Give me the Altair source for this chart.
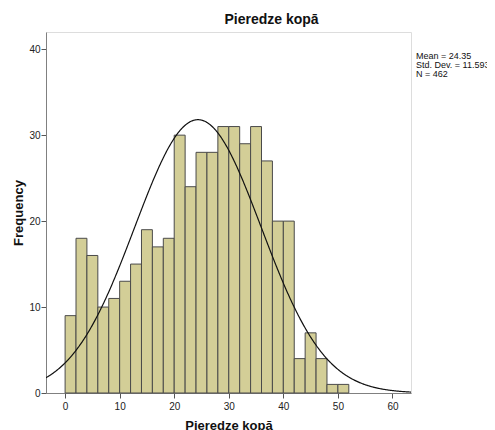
import altair as alt
import pandas as pd

# Histogram data (bin width 2)
bin_starts = [0, 2, 4, 6, 8, 10, 12, 14, 16, 18, 20, 22, 24, 26, 28, 30, 32, 34, 36, 38, 40, 42, 44, 46, 48, 50]
counts = [9, 18, 16, 10, 11, 13, 15, 19, 17, 18, 30, 24, 28, 28, 31, 31, 29, 31, 27, 20, 20, 4, 7, 4, 1, 1]
bin_width = 2

mean_val = 24.35
sd_val = 11.593
n_val = 462
stats_lines = ["Mean = 24.35", "Std. Dev. = 11.593", "N = 462"]

x_domain = [-3.5, 63.4]
y_domain = [0, 42]
x_ticks = [0, 10, 20, 30, 40, 50, 60]
y_ticks = [0, 10, 20, 30, 40]

FONT = "Liberation Sans"

bars_df = pd.DataFrame({
    "start": bin_starts,
    "end": [s + bin_width for s in bin_starts],
    "count": counts,
})

xscale = alt.Scale(domain=x_domain, nice=False, zero=False)
yscale = alt.Scale(domain=y_domain, nice=False)

x_axis = alt.Axis(values=x_ticks, grid=False, tickSize=5, tickColor="#555555",
                  domainColor="#808080", labelFont=FONT, labelFontSize=10,
                  labelColor="#222222", labelPadding=3,
                  title="Pieredze kopā", titleFont=FONT, titleFontSize=13,
                  titleFontWeight="bold", titleColor="#111111", titleY=26,
                  titleBaseline="top")
y_axis = alt.Axis(values=y_ticks, grid=False, tickSize=5, tickColor="#555555",
                  domainColor="#808080", labelFont=FONT, labelFontSize=10,
                  labelColor="#222222", labelPadding=1,
                  title="Frequency", titleFont=FONT, titleFontSize=13,
                  titleFontWeight="bold", titleColor="#111111", titlePadding=3)

bars = alt.Chart(bars_df).mark_bar(
    fill="#d3ce97", stroke="#4a4a4a", strokeWidth=1, opacity=1
).encode(
    x=alt.X("start:Q", scale=xscale, axis=x_axis),
    x2="end:Q",
    y=alt.Y("count:Q", scale=yscale, axis=y_axis),
    y2=alt.datum(0),
)

curve = alt.Chart(alt.sequence(-3.5, 63.45, 0.1, as_="x")).transform_calculate(
    y=f"{n_val}*{bin_width}*exp(-0.5*pow((datum.x-{mean_val})/{sd_val},2))/({sd_val}*sqrt(2*PI))"
).mark_line(color="#111111", strokeWidth=1.2, clip=True).encode(
    x=alt.X("x:Q", scale=xscale),
    y=alt.Y("y:Q", scale=yscale),
)

stats_df = pd.DataFrame({"label": ["\n".join(stats_lines)]})
stats = alt.Chart(stats_df).mark_text(
    align="left", baseline="top", font=FONT, fontSize=9, color="#111111",
    lineBreak="\n", lineHeight=9
).encode(
    x=alt.value(370),
    y=alt.value(20),
    text="label:N",
)

chart = alt.layer(bars, curve, stats).properties(
    width=365,
    height=361,
    autosize=alt.AutoSizeParams(type="none"),
    padding={"left": 38, "top": 24, "right": 76, "bottom": 37},
    title=alt.TitleParams(text="Pieredze kopā", font=FONT, fontSize=14,
                          fontWeight="bold", color="#111111", offset=5, dx=43),
).configure_view(
    fill="#f0f0f0", stroke="#808080", strokeWidth=1
).configure(background="white")

chart.save("out.html", embed_options={"renderer": "svg", "actions": False})
